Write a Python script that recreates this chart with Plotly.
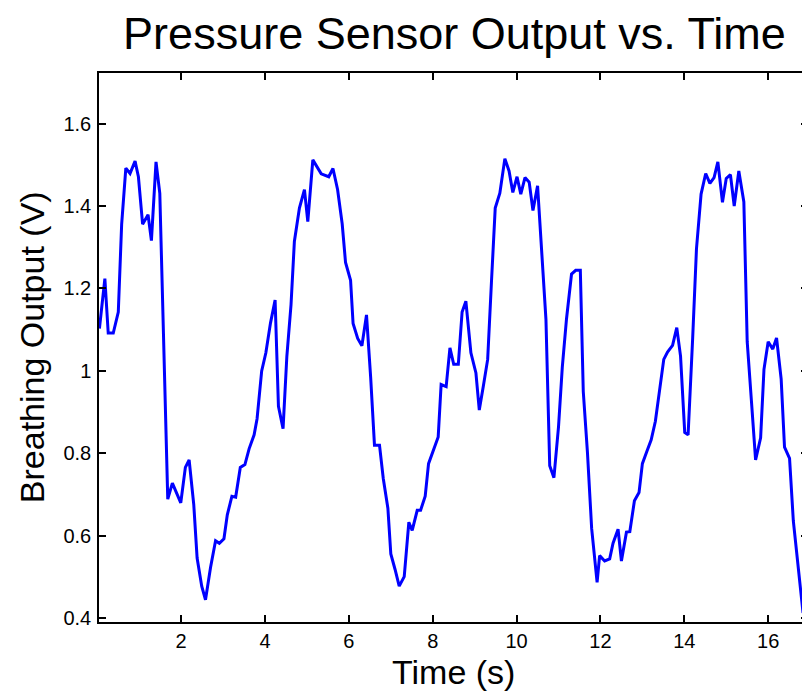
import plotly.graph_objects as go

# Time (s)
time_s = [
    0.05, 0.18, 0.26, 0.38, 0.50, 0.58, 0.68, 0.78, 0.90, 0.98,
    1.08, 1.21, 1.29, 1.40, 1.49, 1.58, 1.68, 1.79, 1.90, 1.99,
    2.10, 2.19, 2.30, 2.38, 2.49, 2.58, 2.70, 2.82, 2.91, 3.02,
    3.10, 3.21, 3.30, 3.41, 3.52, 3.62, 3.74, 3.81, 3.92, 4.02,
    4.13, 4.24, 4.32, 4.43, 4.52, 4.62, 4.70, 4.82, 4.94, 5.02,
    5.14, 5.34, 5.52, 5.62, 5.73, 5.84, 5.92, 6.04, 6.10, 6.21,
    6.31, 6.42, 6.52, 6.61, 6.73, 6.82, 6.93, 7.00, 7.10, 7.20,
    7.32, 7.43, 7.51, 7.63, 7.71, 7.82, 7.90, 8.01, 8.13, 8.20,
    8.32, 8.41, 8.50, 8.61, 8.70, 8.79, 8.91, 9.03, 9.11, 9.21,
    9.31, 9.40, 9.49, 9.60, 9.72, 9.82, 9.91, 10.01, 10.10, 10.20,
    10.30, 10.39, 10.50, 10.70, 10.79, 10.89, 11.00, 11.09, 11.19, 11.31,
    11.41, 11.52, 11.59, 11.69, 11.79, 11.92, 11.98, 12.10, 12.22, 12.30,
    12.42, 12.50, 12.62, 12.70, 12.81, 12.92, 13.00, 13.11, 13.21, 13.31,
    13.41, 13.51, 13.60, 13.72, 13.82, 13.91, 14.01, 14.09, 14.20, 14.29,
    14.40, 14.51, 14.61, 14.71, 14.80, 14.91, 15.00, 15.10, 15.19, 15.30,
    15.42, 15.50, 15.60, 15.70, 15.82, 15.90, 16.00, 16.11, 16.20, 16.31,
    16.39, 16.51, 16.60, 16.71, 16.83, 16.94,
]

# Breathing output (V)
output_v = [
    1.103, 1.224, 1.092, 1.092, 1.143, 1.355, 1.492, 1.479, 1.509, 1.471,
    1.356, 1.379, 1.316, 1.507, 1.431, 1.107, 0.689, 0.728, 0.703, 0.680,
    0.766, 0.784, 0.676, 0.546, 0.478, 0.445, 0.523, 0.588, 0.582, 0.593,
    0.651, 0.696, 0.694, 0.766, 0.773, 0.811, 0.845, 0.884, 1.000, 1.044,
    1.116, 1.172, 0.914, 0.860, 1.035, 1.161, 1.314, 1.395, 1.440, 1.362,
    1.512, 1.478, 1.471, 1.491, 1.440, 1.357, 1.263, 1.220, 1.115, 1.079,
    1.061, 1.136, 0.983, 0.820, 0.820, 0.739, 0.667, 0.556, 0.519, 0.478,
    0.501, 0.633, 0.613, 0.662, 0.662, 0.696, 0.775, 0.806, 0.840, 0.967,
    0.962, 1.056, 1.016, 1.016, 1.143, 1.169, 1.044, 0.995, 0.905, 0.965,
    1.028, 1.215, 1.395, 1.431, 1.515, 1.485, 1.433, 1.471, 1.429, 1.469,
    1.458, 1.389, 1.449, 1.125, 0.770, 0.741, 0.865, 1.009, 1.126, 1.235,
    1.244, 1.244, 0.950, 0.802, 0.618, 0.487, 0.552, 0.539, 0.544, 0.582,
    0.616, 0.539, 0.609, 0.610, 0.685, 0.705, 0.775, 0.806, 0.833, 0.878,
    0.955, 1.028, 1.046, 1.062, 1.105, 1.036, 0.851, 0.845, 1.081, 1.296,
    1.429, 1.479, 1.455, 1.469, 1.507, 1.409, 1.467, 1.476, 1.400, 1.485,
    1.410, 1.071, 0.928, 0.784, 0.838, 1.004, 1.071, 1.053, 1.080, 0.980,
    0.815, 0.788, 0.636, 0.532, 0.415, 0.406,
]

x_tick_vals = [2, 4, 6, 8, 10, 12, 14, 16]
x_tick_text = ["2", "4", "6", "8", "10", "12", "14", "16"]
y_tick_vals = [0.4, 0.6, 0.8, 1.0, 1.2, 1.4, 1.6]
y_tick_text = ["0.4", "0.6", "0.8", "1", "1.2", "1.4", "1.6"]

FONT = "Liberation Sans, Arial, Helvetica, sans-serif"

fig = go.Figure()
fig.add_trace(go.Scatter(
    x=time_s, y=output_v, mode="lines",
    line=dict(color="#0000ff", width=3),
    showlegend=False, hoverinfo="skip",
))

# page has an 8px body margin; figure is offset by it
W, H = 802, 688
L, R, T, B = 91, 0, 65, 74
ph = H - T - B
pw = W - L - R

fig.update_layout(
    width=W, height=H,
    margin=dict(l=L, r=R, t=T, b=B, pad=0),
    paper_bgcolor="white", plot_bgcolor="white",
    font=dict(family=FONT, color="black", size=20),
    title=dict(
        text="Pressure Sensor Output vs. Time",
        font=dict(family=FONT, size=45, color="black"),
        x=446.5 / W, xanchor="center",
        xref="container", yref="container",
        y=1 - 25 / H, yanchor="middle",
    ),
    xaxis=dict(
        range=[0.04, 16.95],
        tickmode="array", tickvals=x_tick_vals, ticktext=x_tick_text,
        ticks="inside", ticklen=7, tickwidth=1.5, tickcolor="black",
        showline=True, linecolor="black", linewidth=1.5, mirror="ticks",
        showgrid=False, zeroline=False,
        tickfont=dict(family=FONT, size=20, color="black"),
    ),
    yaxis=dict(
        range=[0.391, 1.7227],
        tickmode="array", tickvals=y_tick_vals, ticktext=y_tick_text,
        ticks="inside", ticklen=7, tickwidth=1.5, tickcolor="black",
        showline=True, linecolor="black", linewidth=1.5, mirror="ticks",
        showgrid=False, zeroline=False,
        tickfont=dict(family=FONT, size=20, color="black"),
        ticklabelstandoff=2,
    ),
    annotations=[
        dict(text="Time (s)", xref="paper", yref="paper",
             x=0.5, y=-(664 - (T + ph)) / ph, xanchor="center", yanchor="middle",
             showarrow=False, font=dict(family=FONT, size=34, color="black")),
        dict(text="Breathing Output (V)", xref="paper", yref="paper",
             x=-(L - 24) / pw, y=(T + ph - 339) / ph,
             xanchor="center", yanchor="middle", textangle=-90,
             showarrow=False, font=dict(family=FONT, size=34, color="black")),
    ],
)

fig.write_html("out.html")
